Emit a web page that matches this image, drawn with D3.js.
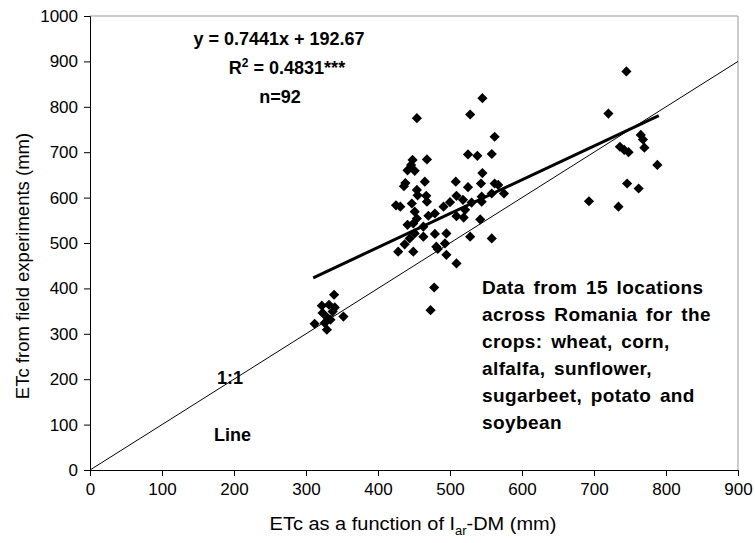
<!DOCTYPE html>
<html>
<head>
<meta charset="utf-8">
<title>ETc scatter</title>
<style>
  body{margin:0;background:#fff;}
  text{font-family:"Liberation Sans",Arial,sans-serif;fill:#000;}
  .tick text{font-size:17px;}
  .lbl{font-size:18.5px;}
  .bold{font-size:18px;font-weight:bold;}
  .note{font-size:19px;font-weight:bold;letter-spacing:0.4px;word-spacing:3px;}
</style>
<script src="https://d3js.org/d3.v7.min.js"></script>
</head>
<body>
<script>
// x = ETc from Iar-DM (mm), y = ETc from field experiments (mm)
var xVals=[312,322,332,339,340,337,352,330,326,329,334,323,
  545,454,528,562,525,538,558,448,468,451,545,465,508,543,562,525,454,467,509,544,558,575,
  468,518,530,491,447,451,509,519,479,542,449,463,479,495,528,558,463,451,449,481,493,495,509,478,473,
  544,521,567,454,483,
  425,431,436,438,441,446,441,444,428,437,
  720,745,736,742,748,765,768,770,746,762,734,788,693,
  500,455,470];
var yVals=[322,362,364,386,358,349,338,335,324,309,331,346,
  819,775,783,734,695,692,696,683,684,659,654,635,635,631,631,623,617,604,604,602,609,609,
  591,595,589,580,587,569,559,556,565,552,543,536,520,521,514,510,514,521,481,492,499,474,455,402,352,
  591,573,628,554,487,
  583,580,625,632,660,672,540,510,481,497,
  785,878,712,705,700,738,728,710,631,620,580,672,592,
  590,605,560];
var xTicks=[0,100,200,300,400,500,600,700,800,900];
var yTicks=[0,100,200,300,400,500,600,700,800,900,1000];
var slope=0.7441, intercept=192.67, fitRange=[310,790];

var width=755,height=543;
var m={left:90,right:17,top:16,bottom:73};
var svg=d3.select("body").append("svg").attr("width",width).attr("height",height);

var x=d3.scaleLinear().domain([0,900]).range([m.left,width-m.right]);
var y=d3.scaleLinear().domain([0,1000]).range([height-m.bottom,m.top]);

// frame (top/right grey)
svg.append("path")
  .attr("d","M"+x(0)+","+y(1000)+"H"+x(900)+"V"+y(0))
  .attr("fill","none").attr("stroke","#999").attr("stroke-width",1);

svg.append("g").attr("transform","translate(0,"+y(0)+")")
  .call(d3.axisBottom(x).tickValues(xTicks).tickFormat(d3.format("d")).tickSize(6).tickPadding(7));
svg.append("g").attr("transform","translate("+x(0)+",0)")
  .call(d3.axisLeft(y).tickValues(yTicks).tickFormat(d3.format("d")).tickSize(6).tickPadding(6));
svg.selectAll(".domain").attr("stroke","#000");
svg.selectAll(".tick line").attr("stroke","#000");

// 1:1 line
svg.append("line")
  .attr("x1",x(0)).attr("y1",y(0)).attr("x2",x(900)).attr("y2",y(900))
  .attr("stroke","#000").attr("stroke-width",1);

// regression line
svg.append("line")
  .attr("x1",x(fitRange[0])).attr("y1",y(slope*fitRange[0]+intercept))
  .attr("x2",x(fitRange[1])).attr("y2",y(slope*fitRange[1]+intercept))
  .attr("stroke","#000").attr("stroke-width",3);

var pts=xVals.map(function(d,i){return [d,yVals[i]];});
var sym=d3.symbol().type(d3.symbolSquare).size(52);
svg.append("g").selectAll("path").data(pts).enter().append("path")
  .attr("d",sym)
  .attr("transform",function(d){return "translate("+x(d[0])+","+y(d[1])+") rotate(45)";})
  .attr("fill","#000");

// axis titles (source chart is slightly stretched horizontally)
var xl=svg.append("text").attr("class","lbl")
  .attr("transform","translate(413,530) scale(1.08,1)").attr("text-anchor","middle");
xl.append("tspan").text("ETc as a function of I");
xl.append("tspan").attr("font-size","12px").attr("dy",5).text("ar");
xl.append("tspan").attr("dy",-5).text("-DM (mm)");

svg.append("text").attr("class","lbl")
  .attr("transform","translate(29,266) rotate(-90)")
  .attr("text-anchor","middle")
  .text("ETc from field experiments (mm)");

// equation block
svg.append("text").attr("class","bold").attr("x",279).attr("y",45).attr("text-anchor","middle")
  .text("y = 0.7441x + 192.67");
var r2=svg.append("text").attr("class","bold").attr("x",287).attr("y",74).attr("text-anchor","middle");
r2.append("tspan").text("R");
r2.append("tspan").attr("font-size","12px").attr("dy",-7).text("2");
r2.append("tspan").attr("dy",7).text(" = 0.4831***");
svg.append("text").attr("class","bold").attr("x",280).attr("y",103).attr("text-anchor","middle").text("n=92");

svg.append("text").attr("class","bold").attr("x",217).attr("y",384).text("1:1");
svg.append("text").attr("class","bold").attr("x",214).attr("y",441).text("Line");

var note=["Data from 15 locations","across Romania for the","crops: wheat, corn,",
  "alfalfa, sunflower,","sugarbeet, potato and","soybean"];
svg.append("g").selectAll("text").data(note).enter().append("text")
  .attr("class","note").attr("x",482)
  .attr("y",function(d,i){return 294+i*27;})
  .text(function(d){return d;});
</script>
</body>
</html>
